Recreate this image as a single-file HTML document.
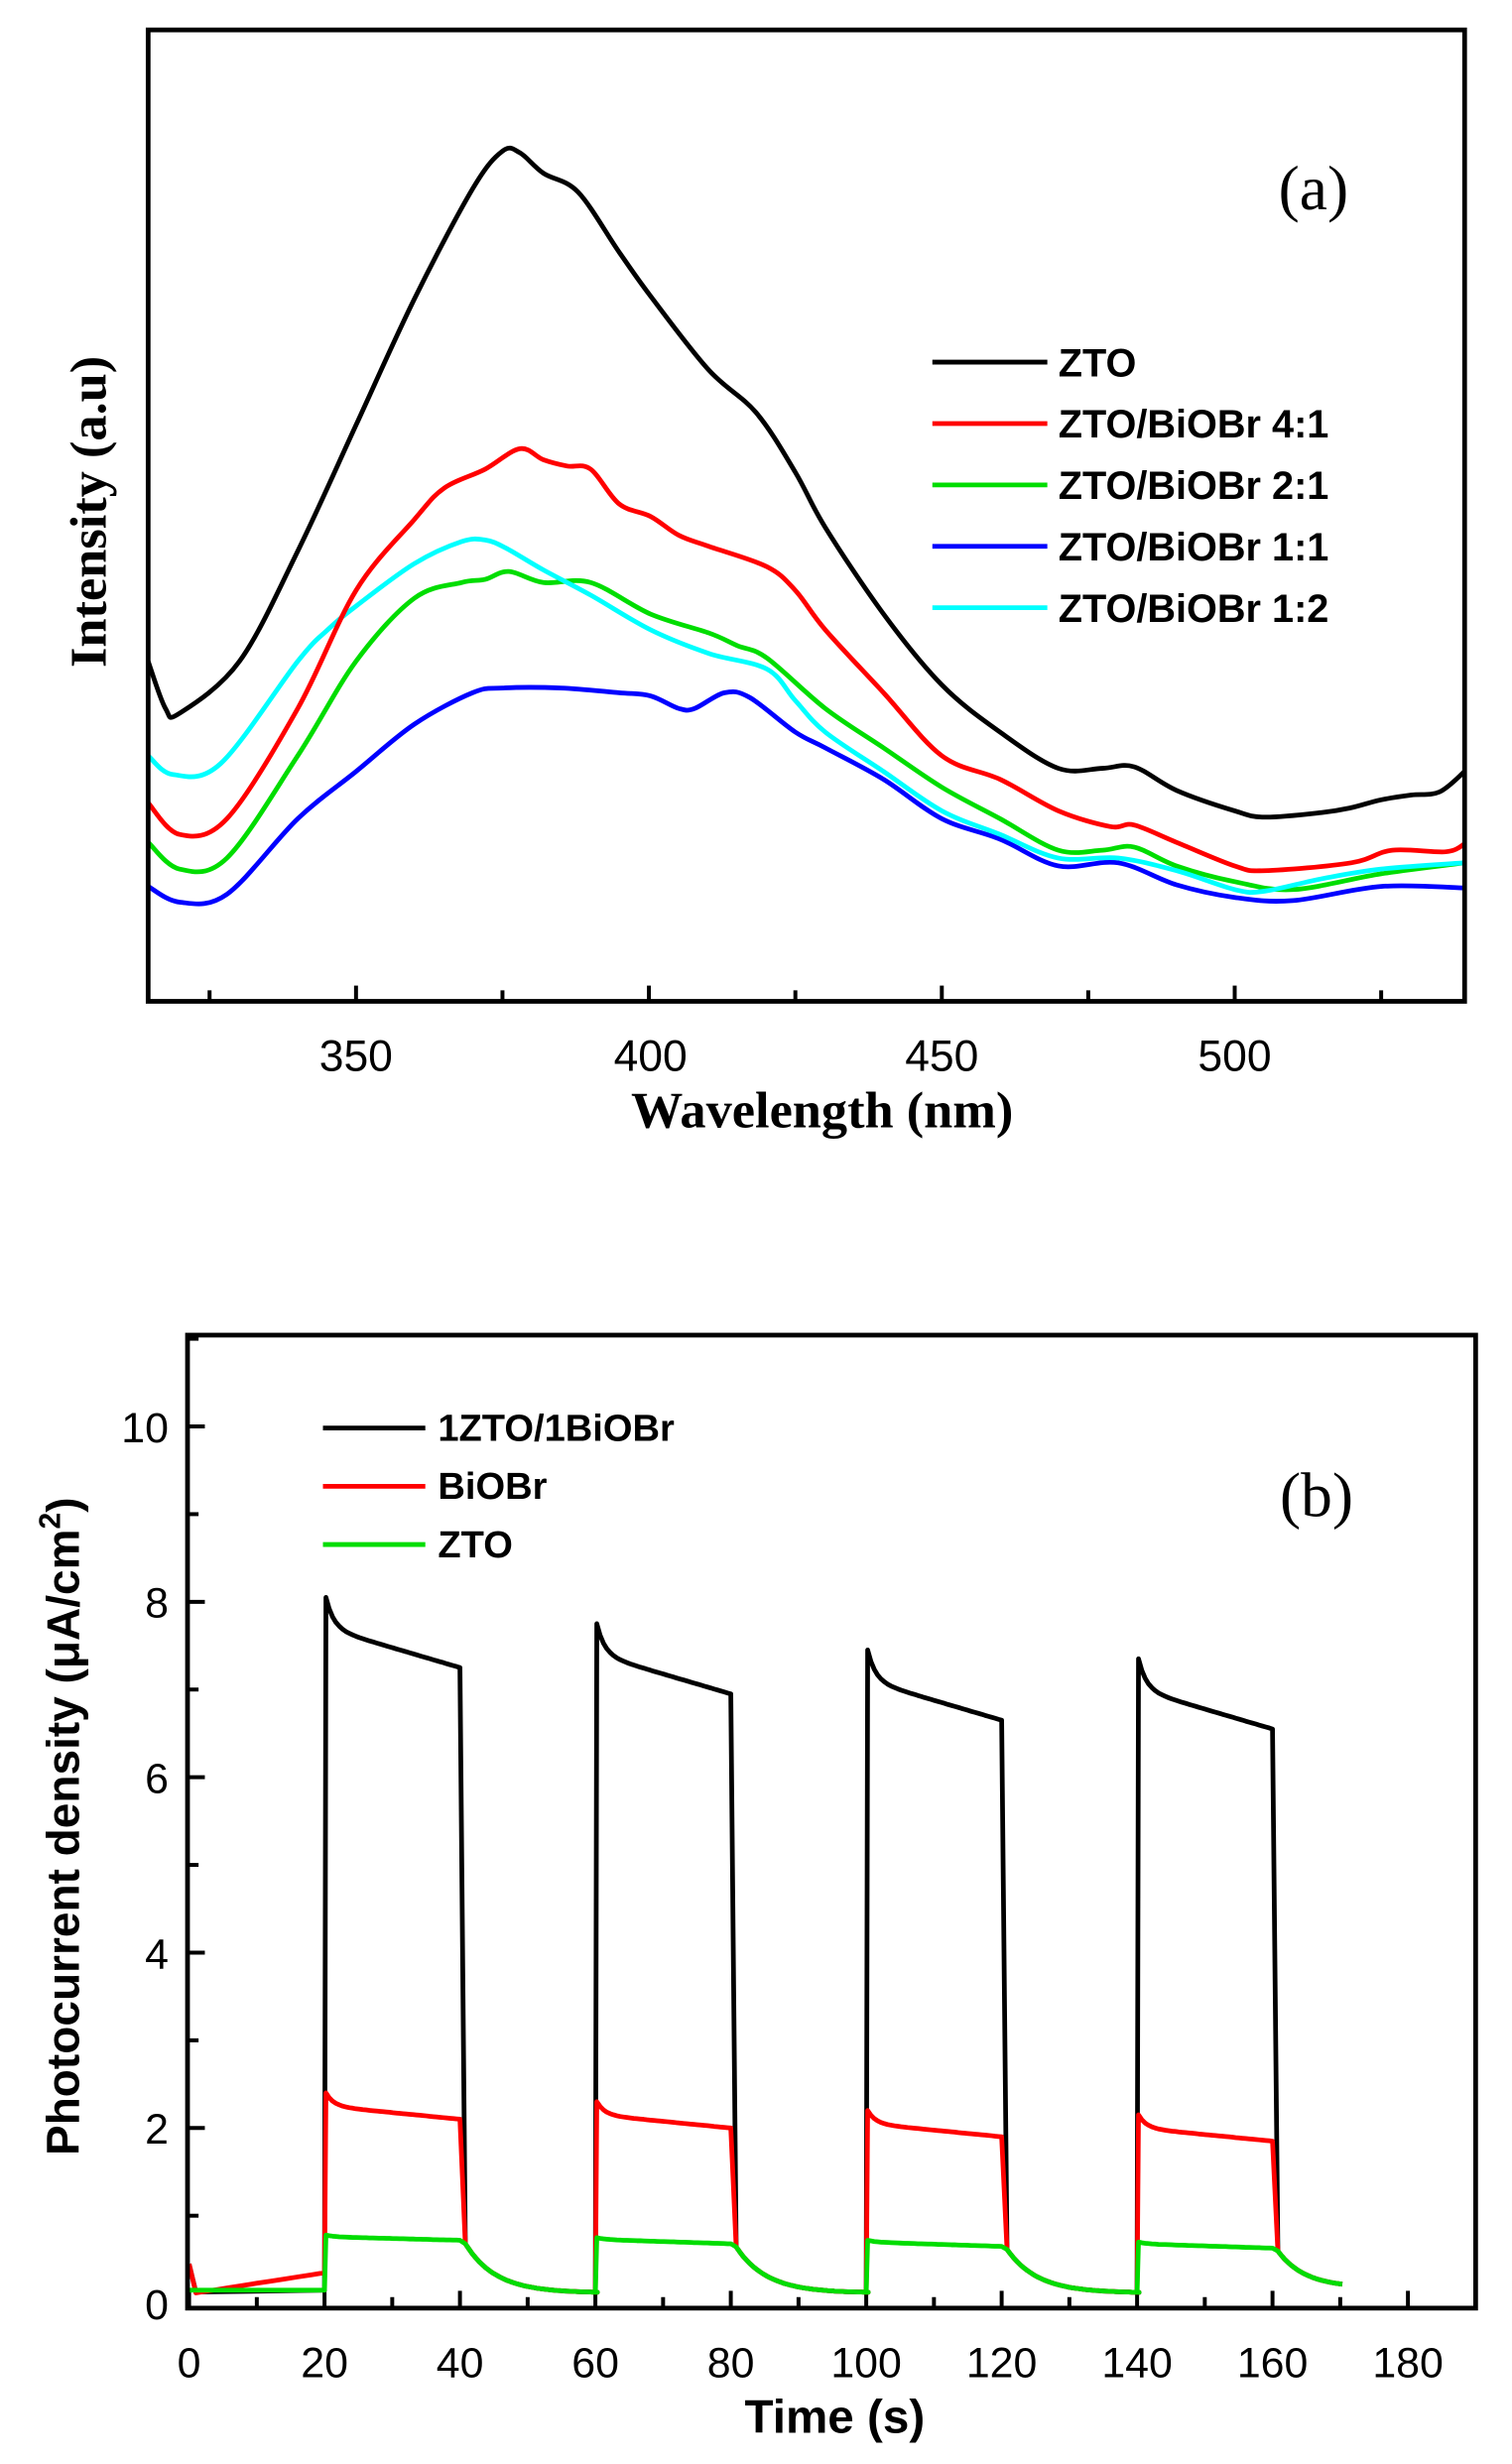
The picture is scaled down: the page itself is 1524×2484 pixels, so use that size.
<!DOCTYPE html>
<html><head><meta charset="utf-8">
<style>html,body{margin:0;padding:0;background:#fff}svg{display:block}</style>
</head><body>
<svg id="s" xmlns="http://www.w3.org/2000/svg" width="1524" height="2484" viewBox="0 0 960 1565">
<rect width="960" height="1565" fill="#fff"/>
<g id="a"></g>
<rect x="94" y="19" width="836" height="617" fill="none" stroke="#000" stroke-width="3"/>
<g font-family="Liberation Sans, sans-serif" font-size="28" text-anchor="middle">
<text x="226" y="680">350</text><text x="413" y="680">400</text><text x="598" y="680">450</text><text x="784" y="680">500</text>
</g>
<text x="522" y="716" font-family="Liberation Serif, serif" font-weight="bold" font-size="33" text-anchor="middle">Wavelength (nm)</text>
<text transform="translate(67,325) rotate(-90)" font-family="Liberation Serif, serif" font-weight="bold" font-size="33" text-anchor="middle">Intensity (a.u)</text>
<text x="834" y="133" font-family="Liberation Serif, serif" font-size="40" text-anchor="middle">(a)</text>
<g font-family="Liberation Sans, sans-serif" font-weight="bold" font-size="25" stroke-width="3">
<line x1="592" y1="230" x2="665" y2="230" stroke="#000"/><text x="672" y="239">ZTO</text>
<line x1="592" y1="269" x2="665" y2="269" stroke="#f00"/><text x="672" y="278">ZTO/BiOBr 4:1</text>
<line x1="592" y1="308" x2="665" y2="308" stroke="#0d0"/><text x="672" y="317">ZTO/BiOBr 2:1</text>
<line x1="592" y1="347" x2="665" y2="347" stroke="#00f"/><text x="672" y="356">ZTO/BiOBr 1:1</text>
<line x1="592" y1="386" x2="665" y2="386" stroke="#0ff"/><text x="672" y="395">ZTO/BiOBr 1:2</text>
</g>

<g id="b"></g>
<rect x="119" y="848" width="818" height="618" fill="none" stroke="#000" stroke-width="3"/>
<g font-family="Liberation Sans, sans-serif" font-size="27" text-anchor="end" id="yl"></g>
<g font-family="Liberation Sans, sans-serif" font-size="27" text-anchor="middle" id="xl"></g>
<text x="530" y="1545" font-family="Liberation Sans, sans-serif" font-weight="bold" font-size="30" text-anchor="middle">Time (s)</text>
<text transform="translate(50,1160) rotate(-90)" font-family="Liberation Sans, sans-serif" font-weight="bold" font-size="29" text-anchor="middle">Photocurrent density (μA/cm<tspan dy="-12" font-size="19">2</tspan><tspan dy="12">)</tspan></text>
<text x="836" y="963" font-family="Liberation Serif, serif" font-size="40" text-anchor="middle">(b)</text>
<g font-family="Liberation Sans, sans-serif" font-weight="bold" font-size="24" stroke-width="3">
<line x1="205" y1="907" x2="270" y2="907" stroke="#000"/><text x="278" y="915">1ZTO/1BiOBr</text>
<line x1="205" y1="944" x2="270" y2="944" stroke="#f00"/><text x="278" y="952">BiOBr</text>
<line x1="205" y1="981" x2="270" y2="981" stroke="#0d0"/><text x="278" y="989">ZTO</text>
</g>
</svg>
<script>
var NS="http://www.w3.org/2000/svg";
function el(p,tag,at,txt){var e=document.createElementNS(NS,tag);for(var k in at)e.setAttribute(k,at[k]);if(txt!=null)e.textContent=txt;document.getElementById(p).appendChild(e);return e;}
function cr(pts){
 var d="M"+pts[0][0]+","+pts[0][1];
 for(var i=0;i<pts.length-1;i++){var p0=pts[i-1]||pts[i],p1=pts[i],p2=pts[i+1],p3=pts[i+2]||p2;
  d+="C"+(p1[0]+(p2[0]-p0[0])/6).toFixed(1)+","+(p1[1]+(p2[1]-p0[1])/6).toFixed(1)+" "+(p2[0]-(p3[0]-p1[0])/6).toFixed(1)+","+(p2[1]-(p3[1]-p1[1])/6).toFixed(1)+" "+p2[0]+","+p2[1];}
 return d;}
var A={
"#00f":[[94,563],[114,573],[144,568],[189,520],[226,490],[263,460],[300,440],[319,437],[356,437],[393,440],[413,442],[431,450],[441,450],[460,440],[476,443],[505,465],[524,475],[561,495],[598,520],[635,533],[672,550],[710,548],[747,562],[784,570],[821,572],[877,563],[930,564]],
"#0d0":[[94,535],[114,552],[144,545],[189,480],[226,420],[263,380],[293,370],[308,368],[323,363],[345,370],[375,370],[413,390],[450,402],[468,410],[487,418],[524,450],[561,475],[598,500],[635,520],[672,540],[700,540],[720,538],[747,550],[784,560],[821,565],[877,555],[930,548]],
"#0ff":[[94,480],[110,492],[140,485],[189,420],[208,400],[226,385],[263,358],[293,344],[308,343],[321,348],[345,362],[375,378],[413,400],[450,415],[487,425],[505,445],[524,465],[561,490],[598,515],[635,530],[672,545],[710,545],[747,553],[784,565],[803,566],[840,558],[877,552],[930,548]],
"#f00":[[94,510],[114,530],[144,520],[189,450],[226,375],[263,330],[282,310],[308,298],[330,285],[345,292],[360,296],[375,298],[393,320],[413,328],[431,340],[450,347],[487,360],[505,375],[524,400],[561,440],[598,480],[635,495],[672,515],[705,525],[720,524],[747,535],[784,550],[803,553],[858,548],[884,540],[918,541],[930,536]],
"#000":[[94,420],[105,450],[114,453],[152,420],[189,350],[226,270],[263,190],[300,120],[319,96],[330,97],[345,110],[367,122],[393,160],[413,188],[450,235],[480,262],[505,300],[524,335],[561,390],[598,435],[635,465],[672,488],[700,488],[720,487],[747,502],[784,515],[803,519],[840,516],[858,513],[877,508],[896,505],[914,503],[930,490]]};
for(var c in A)el("a","path",{d:cr(A[c]),fill:"none",stroke:c,"stroke-width":3,"stroke-linejoin":"round"});
for(var w=325;w<=540;w+=25){var x=226+(w-350)*3.72,L=(w%50==0)?10:7;el("a","line",{x1:x,y1:636,x2:x,y2:636-L,stroke:"#000","stroke-width":2.5});}
function X(t){return 120+t*4.3;} function Y(v){return 1463-v*55.7;}
for(var t=0;t<=190;t+=10){var L=(t%20==0)?11:7;el("b","line",{x1:X(t),y1:1466,x2:X(t),y2:1466-L,stroke:"#000","stroke-width":2.5});if(t%20==0&&t<=180)el("xl","text",{x:X(t),y:1510},t);}
for(var v=1;v<=11;v++){var L=(v%2==0)?11:7;el("b","line",{x1:119,y1:Y(v),x2:119+L,y2:Y(v),stroke:"#000","stroke-width":2.5});}
for(var v=0;v<=10;v+=2)el("yl","text",{x:107,y:Y(v)+10},v);
var on={k:[[8.05,7.7,7.25],[7.75,7.4,6.95],[7.45,7.1,6.65],[7.35,7.0,6.55]],r:[[2.4,2.25,2.1],[2.3,2.15,2.0],[2.2,2.05,1.9],[2.15,2.0,1.85]],g:[[0.78,0.76,0.72],[0.75,0.73,0.68],[0.72,0.70,0.65],[0.70,0.68,0.63]]};
function series(s){var p=[];
 if(s=="r"){p.push([0,0.45],[1,0.12]);for(var t=2;t<=20;t+=2)p.push([t,0.12+0.23*(t-1)/19]);}
 else if(s=="k"){p.push([0,0.45],[1,0.13],[20,0.15]);}
 else p.push([0,0.15],[20,0.15]);
 for(var i=0;i<4;i++){var t0=20+40*i,c=on[s][i];
  p.push([t0,p[p.length-1][1]]);
  for(var u=0;u<=20;u+=0.5){var v=c[2]+(c[1]-c[2])*(1-u/20)+(c[0]-c[1])*Math.exp(-u/1.2);p.push([t0+0.2+u*0.99,v]);}
  var te=t0+20.5,gend=on.g[i][2],end=(i==3?10:20);
  for(var u=0.3;u<=end;u+=0.5){var v=0.12+(gend-0.12)*Math.exp(-u/4.5);if(i==3)v=0.18+(gend-0.18)*Math.exp(-u/4);p.push([te+u,v]);}
 }
 return p;}
var col={k:"#000",r:"#f00",g:"#0d0"};
["k","r","g"].forEach(function(s){var p=series(s),d="";p.forEach(function(q,i){d+=(i?"L":"M")+X(q[0]).toFixed(1)+","+Y(q[1]).toFixed(1);});el("b","path",{d:d,fill:"none",stroke:col[s],"stroke-width":3,"stroke-linejoin":"round"});});
</script>
</body></html>
